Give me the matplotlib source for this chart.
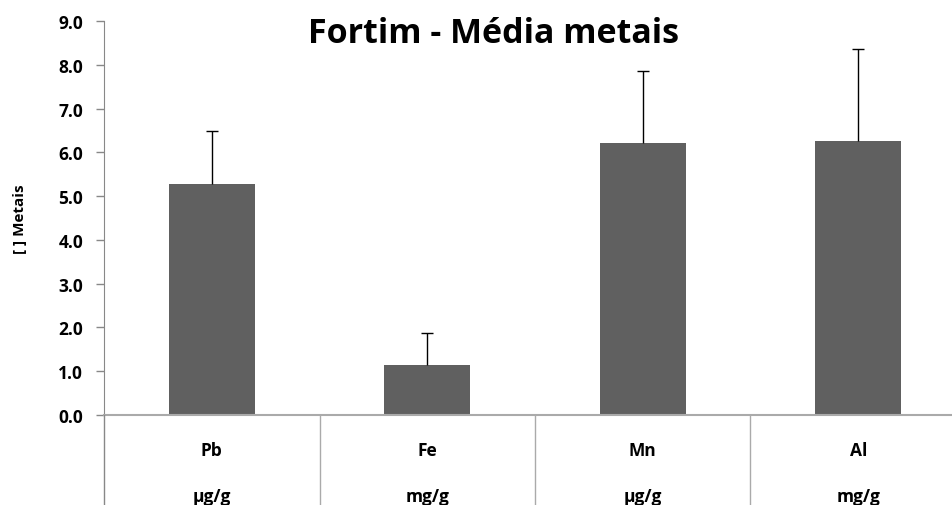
import matplotlib
matplotlib.use("Agg")
import matplotlib.pyplot as plt
from matplotlib.ticker import FixedLocator

categories = ["Pb", "Fe", "Mn", "Al"]
units = ["µg/g", "mg/g", "µg/g", "mg/g"]
means = [5.27, 1.14, 6.21, 6.26]
errors = [1.21, 0.73, 1.64, 2.10]
yticks = [0, 1, 2, 3, 4, 5, 6, 7, 8, 9]

plt.rcParams['font.family'] = ['Open Sans', 'DejaVu Sans']
W, H = 953, 506
fig = plt.figure(figsize=(W/100, H/100), dpi=100)
left, right = 104, 966
top, bottom = 22, 416
ax = fig.add_axes([left/W, 1 - bottom/H, (right-left)/W, (bottom-top)/H])

x = list(range(len(categories)))
ax.bar(x, means, width=0.40, color="#606060", zorder=2)
tops = [m + e for m, e in zip(means, errors)]
ax.vlines(x, means, tops, color="black", lw=1, zorder=3)
ax.hlines(tops, [i - 0.028 for i in x], [i + 0.028 for i in x], color="black", lw=1, zorder=3)

ax.set_xlim(-0.5, len(categories) - 0.5)
ax.set_ylim(0, 9)
ax.set_yticks(yticks)
ax.set_yticklabels([f"{v:.1f}" for v in yticks], fontsize=12.5, fontweight="bold")
ax.tick_params(axis="y", direction="out", length=6, color="#888888", width=1, pad=9)

ax.set_xticks(x)
ax.set_xticklabels([])
ax.tick_params(axis="x", which="major", length=0)
ax.xaxis.set_minor_locator(FixedLocator([i + 0.5 for i in x[:-1]]))
ax.tick_params(axis="x", which="minor", direction="out", length=65, color="#aaaaaa", width=1)

for i, (c, u) in enumerate(zip(categories, units)):
    ax.text(i, -35/43.78, c, ha="center", va="center", fontsize=12.5, fontweight="bold")
    ax.text(i, -81/43.78, u, ha="center", va="center", fontsize=12.5, fontweight="bold")

for s in ["top", "right"]:
    ax.spines[s].set_visible(False)
ax.spines["left"].set_color("#888888")
ax.spines["bottom"].set_color("#aaaaaa")
ax.spines["bottom"].set_linewidth(1.5)

fig.add_artist(plt.Line2D([left/W, left/W], [0, 1 - bottom/H], color="#888888", lw=1,
                          transform=fig.transFigure))

fig.text(493/W, 1 - 34/H, "Fortim - Média metais", ha="center", va="center",
         fontsize=24.5, fontweight="bold")
fig.text(20/W, 1 - 219/H, "[ ] Metais", ha="center", va="center", rotation=90,
         fontsize=11, fontweight="bold")

fig.savefig("out.png", dpi=100)
